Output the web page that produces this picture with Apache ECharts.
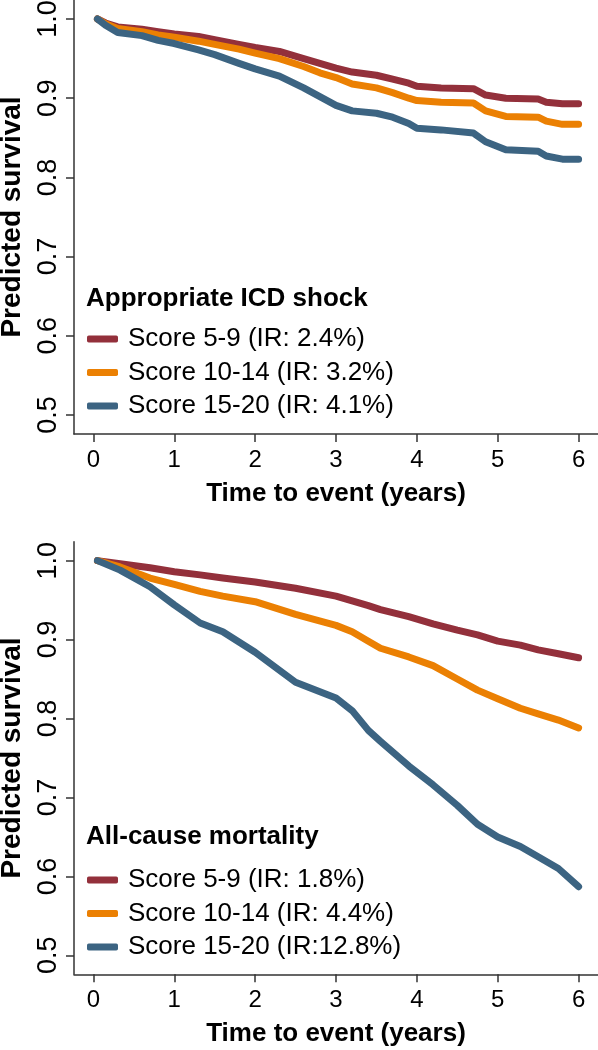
<!DOCTYPE html>
<html>
<head>
<meta charset="utf-8">
<script src="https://cdn.jsdelivr.net/npm/echarts@6/dist/echarts.min.js"></script>
<style>
html,body{margin:0;padding:0;background:#fff;}
#chart{width:598px;height:1050px;}
</style>
</head>
<body>
<div id="chart"></div>
<script>
// ---- Data ----
const xTicks = [0, 1, 2, 3, 4, 5, 6];
const yTicks = [0.5, 0.6, 0.7, 0.8, 0.9, 1.0];

const panelTitles = ['Appropriate ICD shock', 'All-cause mortality'];
const namesTop = ['Score 5-9 (IR: 2.4%)', 'Score 10-14 (IR: 3.2%)', 'Score 15-20 (IR: 4.1%)'];
const namesBottom = ['Score 5-9 (IR: 1.8%)', 'Score 10-14 (IR: 4.4%)', 'Score 15-20 (IR:12.8%)'];

// Top panel: appropriate ICD shock
const timeTop = [0.05, 0.15, 0.3, 0.6, 0.8, 1.0, 1.3, 1.5, 1.8, 2.0, 2.3, 2.6, 2.8, 3.0, 3.2, 3.5, 3.7, 3.9, 4.0, 4.3, 4.7, 4.85, 5.1, 5.5, 5.6, 5.8, 6.0];
const topRed    = [1.000, 0.995, 0.990, 0.987, 0.984, 0.981, 0.978, 0.974, 0.968, 0.964, 0.959, 0.950, 0.944, 0.938, 0.933, 0.929, 0.924, 0.919, 0.915, 0.913, 0.912, 0.904, 0.900, 0.899, 0.895, 0.893, 0.893];
const topOrange = [1.000, 0.994, 0.988, 0.984, 0.980, 0.977, 0.972, 0.968, 0.962, 0.957, 0.950, 0.940, 0.932, 0.926, 0.918, 0.913, 0.907, 0.900, 0.897, 0.895, 0.894, 0.884, 0.877, 0.876, 0.871, 0.867, 0.867];
const topBlue   = [1.000, 0.992, 0.983, 0.979, 0.973, 0.969, 0.961, 0.955, 0.944, 0.937, 0.928, 0.913, 0.902, 0.891, 0.884, 0.881, 0.876, 0.868, 0.862, 0.860, 0.856, 0.845, 0.835, 0.833, 0.827, 0.823, 0.823];

// Bottom panel: all-cause mortality
const timeBottom = [0.05, 0.33, 0.7, 1.0, 1.32, 1.6, 2.0, 2.5, 3.0, 3.2, 3.4, 3.55, 3.9, 4.2, 4.5, 4.75, 5.0, 5.28, 5.5, 5.75, 6.0];
const botRed    = [1.000, 0.996, 0.991, 0.986, 0.982, 0.978, 0.973, 0.965, 0.955, 0.949, 0.943, 0.938, 0.929, 0.920, 0.912, 0.906, 0.898, 0.893, 0.887, 0.882, 0.877];
const botOrange = [1.000, 0.992, 0.978, 0.970, 0.961, 0.955, 0.948, 0.932, 0.918, 0.910, 0.898, 0.889, 0.878, 0.867, 0.850, 0.836, 0.825, 0.813, 0.806, 0.798, 0.788];
const botBlue   = [1.000, 0.988, 0.967, 0.944, 0.921, 0.910, 0.884, 0.846, 0.826, 0.810, 0.785, 0.771, 0.740, 0.716, 0.690, 0.666, 0.650, 0.638, 0.625, 0.610, 0.587];

const colors = ['#93303b', '#eb8003', '#3c6482'];

// ---- Chart ----
const FONT = '"Liberation Sans", Arial, Helvetica, sans-serif';
const pairs = (t, v) => t.map((x, i) => [x, v[i]]);

function xAxisDef(gridIndex) {
  return {
    type: 'value', gridIndex, min: -0.24, max: 6.24,
    name: 'Time to event (years)', nameLocation: 'middle', nameGap: 47,
    nameTextStyle: { fontFamily: FONT, fontSize: 26, fontWeight: 'bold', color: '#000' },
    axisLine: { onZero: false, lineStyle: { color: '#333', width: 1.5 } },
    axisTick: { customValues: xTicks, length: 8, lineStyle: { color: '#333', width: 1.5 } },
    axisLabel: { customValues: xTicks, fontFamily: FONT, fontSize: 24, color: '#000', margin: 14 },
    splitLine: { show: false }
  };
}
function yAxisDef(gridIndex) {
  return {
    type: 'value', gridIndex, min: 0.476, max: 1.024,
    name: 'Predicted survival', nameLocation: 'middle', nameGap: 48, nameRotate: 90,
    nameTextStyle: { fontFamily: FONT, fontSize: 28, fontWeight: 'bold', color: '#000' },
    axisLine: { onZero: false, lineStyle: { color: '#333', width: 1.5 } },
    axisTick: { customValues: yTicks, length: 8, lineStyle: { color: '#333', width: 1.5 } },
    axisLabel: { customValues: yTicks, rotate: 90, fontFamily: FONT, fontSize: 27, color: '#000', margin: 12,
      formatter: v => v.toFixed(1) },
    splitLine: { show: false }
  };
}
function lineSeries(name, data, idx, color) {
  return {
    type: 'line', name, data, xAxisIndex: idx, yAxisIndex: idx,
    showSymbol: false, symbol: 'none', smooth: false,
    lineStyle: { color, width: 7, cap: 'round', join: 'round' },
    itemStyle: { color },
    emphasis: { disabled: true }, silent: true, animation: false
  };
}
function legendDef(names, top) {
  return {
    data: names, orient: 'vertical', left: 87, top, itemWidth: 31, itemHeight: 7,
    itemGap: 7.5, icon: 'roundRect', padding: 0,
    textStyle: { fontFamily: FONT, fontSize: 26, color: '#000', lineHeight: 26, padding: [0, 0, 0, 5] },
    selectedMode: false
  };
}

const chart = echarts.init(document.getElementById('chart'), null, { renderer: 'canvas' });
chart.setOption({
  animation: false,
  backgroundColor: '#fff',
  title: [
    { text: panelTitles[0], left: 86, top: 286, padding: 0,
      textStyle: { fontFamily: FONT, fontSize: 26, fontWeight: 'bold', color: '#000' } },
    { text: panelTitles[1], left: 86, top: 824, padding: 0,
      textStyle: { fontFamily: FONT, fontSize: 26, fontWeight: 'bold', color: '#000' } }
  ],
  legend: [legendDef(namesTop, 326), legendDef(namesBottom, 867)],
  grid: [
    { left: 74, top: 0, width: 524, height: 434, containLabel: false, outerBoundsMode: 'none' },
    { left: 74, top: 541.7, width: 524, height: 432.6, containLabel: false, outerBoundsMode: 'none' }
  ],
  xAxis: [xAxisDef(0), xAxisDef(1)],
  yAxis: [yAxisDef(0), yAxisDef(1)],
  series: [
    lineSeries(namesTop[0], pairs(timeTop, topRed), 0, colors[0]),
    lineSeries(namesTop[1], pairs(timeTop, topOrange), 0, colors[1]),
    lineSeries(namesTop[2], pairs(timeTop, topBlue), 0, colors[2]),
    lineSeries(namesBottom[0], pairs(timeBottom, botRed), 1, colors[0]),
    lineSeries(namesBottom[1], pairs(timeBottom, botOrange), 1, colors[1]),
    lineSeries(namesBottom[2], pairs(timeBottom, botBlue), 1, colors[2])
  ]
});
</script>
</body>
</html>
